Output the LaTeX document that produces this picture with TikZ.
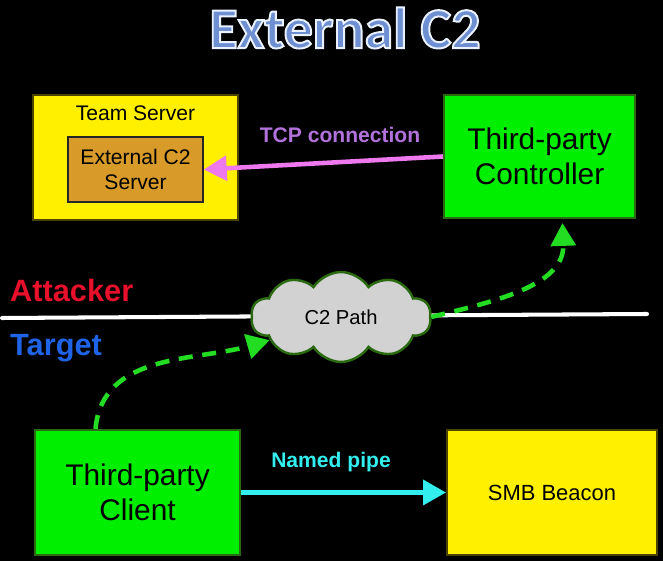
\documentclass[tikz,border=0pt]{standalone}
\usepackage{fontspec}
\setmainfont{Liberation Sans}
\newfontfamily\titlefont{Carlito}
\usepackage{tikz}
\usetikzlibrary{shapes.symbols,arrows.meta}

\definecolor{boxyellow}{HTML}{FFF000}
\definecolor{boxgreen}{HTML}{00EE00}
\definecolor{boxorange}{HTML}{D89A28}
\definecolor{darkedge}{HTML}{4A4400}
\definecolor{greenedge}{HTML}{2A6A10}
\definecolor{titleblue}{HTML}{6E8FD2}
\definecolor{tcppink}{HTML}{EE78EE}
\definecolor{tcppurple}{HTML}{B272DC}
\definecolor{pipecyan}{HTML}{33EEEE}
\definecolor{attackred}{HTML}{E8102A}
\definecolor{targetblue}{HTML}{1F63E6}
\definecolor{pathgreen}{HTML}{22DD22}
\definecolor{cloudgray}{HTML}{D2D2D2}

\begin{document}
\begin{tikzpicture}[
    x=0.02cm, y=-0.02cm,
    box/.style={
        rectangle,
        draw=darkedge,
        line width=1.2pt,
        text centered,
        align=center,
        fill=boxyellow,
        inner sep=4pt
    },
    greenbox/.style={
        box,
        draw=greenedge,
        fill=boxgreen,
        font=\fontsize{17}{20}\selectfont
    },
    arrow/.style={
        line width=2.6pt,
        -{Triangle[length=13pt,width=14pt]}
    },
    dasharrow/.style={
        arrow,
        pathgreen,
        dash pattern=on 8pt off 5.5pt
    }
]

% Background
\fill[black] (0,0) rectangle (663,561);

% Title
\node[font=\titlefont\bfseries\fontsize{33}{36}\selectfont] (title) at (345,28) {%
    \color{titleblue}\special{pdf:literal direct 0.92 0.95 1 RG 1.1 w 2 Tr}External C2\special{pdf:literal direct 0 Tr}};

% Team server
\node[box, minimum width=4.1cm, minimum height=2.5cm] (team) at (135.5,157.5) {};
\node[font=\fontsize{12}{14}\selectfont] (teamlabel) at (135.5,113) {Team Server};
\node[box, fill=boxorange, draw=black!85, line width=1pt, minimum width=2.7cm, minimum height=1.3cm,
      font=\fontsize{12}{14}\selectfont] (extsrv) at (135.5,169.5) {External C2\\Server};

% Controller
\node[greenbox, minimum width=3.82cm, minimum height=2.46cm] (ctrl) at (539.5,156.5) {Third-party\\Controller};

% Client
\node[greenbox, minimum width=4.1cm, minimum height=2.5cm] (client) at (137.5,492.5) {Third-party\\Client};

% Beacon
\node[box, minimum width=4.2cm, minimum height=2.5cm, font=\fontsize{12.5}{15}\selectfont] (beacon) at (552,492.5) {SMB Beacon};

% Attacker / Target split
\coordinate (lineL) at (2,318);
\coordinate (lineR) at (647,314);
\draw[white, line width=2.3pt, line cap=round] (lineL) -- (lineR);
\node[anchor=west, font=\bfseries\fontsize{17.5}{19}\selectfont, text=attackred] (attacker) at (4,291) {Attacker};
\node[anchor=west, font=\bfseries\fontsize{17.5}{19}\selectfont, text=targetblue] (target) at (4,348) {Target};

% C2 path cloud
\node[cloud, cloud puffs=10, cloud puff arc=115, aspect=2.2, fill=cloudgray, draw=greenedge, line width=1.4pt,
      minimum width=3.6cm, minimum height=1.8cm, font=\fontsize{11.5}{14}\selectfont] (path) at (341,317) {C2 Path};

% TCP connection
\draw[arrow, tcppink] (ctrl.west) -- (extsrv.east);
\node[font=\bfseries\fontsize{12}{14}\selectfont, text=tcppurple] (tcplabel) at (340,135) {TCP connection};

% Named pipe
\draw[arrow, pipecyan] (client.east) -- (beacon.west);
\node[font=\bfseries\fontsize{12}{14}\selectfont, text=pipecyan] (pipelabel) at (331,462) {Named pipe};

% Dashed C2 channel
\draw[dasharrow] ([xshift=-0.84cm]client.north) to[out=85, in=196] (path.198);
\draw[dasharrow] (path.east) to[out=14, in=-88] ([xshift=0.46cm, yshift=-0.08cm]ctrl.south);

\end{tikzpicture}
\end{document}
